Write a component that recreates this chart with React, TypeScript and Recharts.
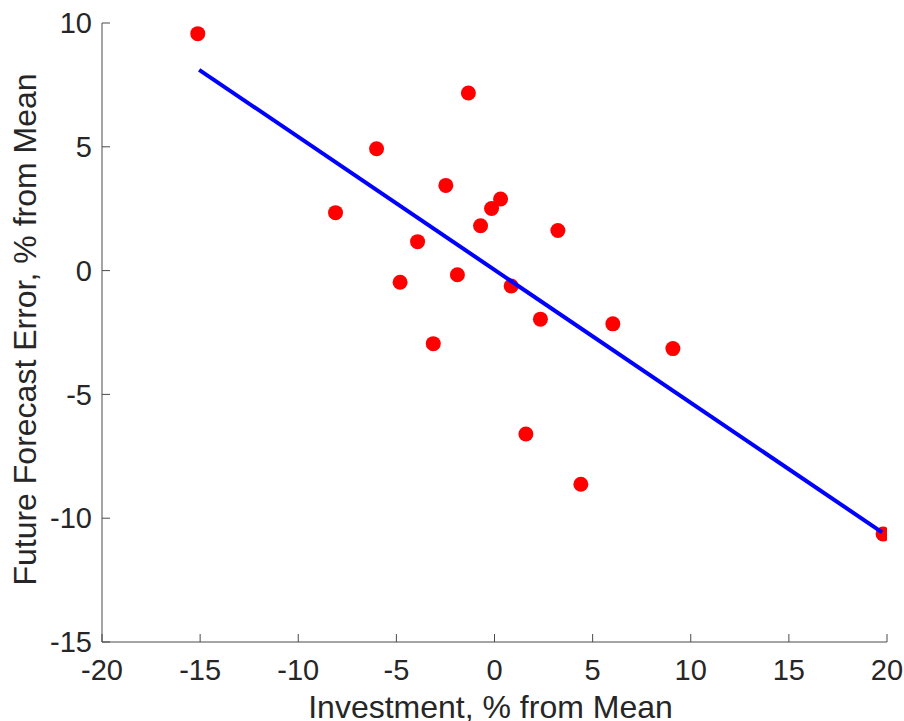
import React from "react";
import { ScatterChart, Scatter, XAxis, YAxis, Label } from "recharts";

// investment deviation (% from mean) vs. future forecast error
const investment = [
  -15.12, -1.33, -6.01, -2.48, 0.31, -0.15, -8.1, -0.71, 3.23, -3.92,
  -1.89, -4.81, 0.85, 2.34, 6.03, -3.12, 9.09, 1.6, 4.4, 19.8,
];
const forecastError = [
  9.57, 7.17, 4.92, 3.44, 2.89, 2.51, 2.34, 1.81, 1.62, 1.17,
  -0.17, -0.47, -0.62, -1.96, -2.15, -2.95, -3.15, -6.6, -8.63, -10.64,
];

// fitted regression line end points
const fitX = [-15.05, 19.75];
const fitY = [8.11, -10.57];

const xTicks = [-20, -15, -10, -5, 0, 5, 10, 15, 20];
const yTicks = [-15, -10, -5, 0, 5, 10];

const points = investment.map((x, i) => ({ x, y: forecastError[i] }));
const fitLine = fitX.map((x, i) => ({ x, y: fitY[i] }));

const FONT = "'Liberation Sans', Arial, Helvetica, sans-serif";
const TEXT = "#262626";
const AXIS = "#4a4a4a";

const Dot = (props: any) => (
  <circle cx={props.cx} cy={props.cy} r={7.5} fill="#ff0000" />
);

const NoShape = () => <g />;

const YTitle = ({ viewBox }: any) => {
  const x = viewBox.x + 25;
  const y = viewBox.y + viewBox.height / 2 - 3;
  return (
    <text
      x={x}
      y={y}
      transform={`rotate(-90, ${x}, ${y})`}
      textAnchor="middle"
      dominantBaseline="central"
      fontSize={32}
      fill={TEXT}
      fontFamily={FONT}
    >
      Future Forecast Error, % from Mean
    </text>
  );
};

const XTitle = ({ viewBox }: any) => (
  <text
    x={viewBox.x + viewBox.width / 2 - 4}
    y={718}
    textAnchor="middle"
    fontSize={32}
    fill={TEXT}
    fontFamily={FONT}
  >
    Investment, % from Mean
  </text>
);

export default function App() {
  return (
    <div style={{ position: "absolute", left: 0, top: 0, background: "#fff" }}>
      <ScatterChart
        width={904}
        height={721}
        margin={{ top: 23, right: 17, bottom: 0, left: 0 }}
        style={{ fontFamily: FONT }}
      >
        <XAxis
          type="number"
          dataKey="x"
          domain={[-20, 20]}
          ticks={xTicks}
          height={79}
          stroke={AXIS}
          tickSize={-8}
          tickMargin={25}
          tick={{ fontSize: 29, fill: TEXT }}
          allowDataOverflow
        >
          <Label content={XTitle} />
        </XAxis>
        <YAxis
          type="number"
          dataKey="y"
          domain={[-15, 10]}
          ticks={yTicks}
          width={102}
          stroke={AXIS}
          tickSize={-8}
          tickMargin={18}
          tick={{ fontSize: 29, fill: TEXT }}
          allowDataOverflow
        >
          <Label content={YTitle} />
        </YAxis>
        <Scatter data={points} shape={Dot} isAnimationActive={false} />
        <Scatter
          data={fitLine}
          line={{ stroke: "#0000ff", strokeWidth: 4 }}
          shape={NoShape}
          isAnimationActive={false}
        />
      </ScatterChart>
    </div>
  );
}
